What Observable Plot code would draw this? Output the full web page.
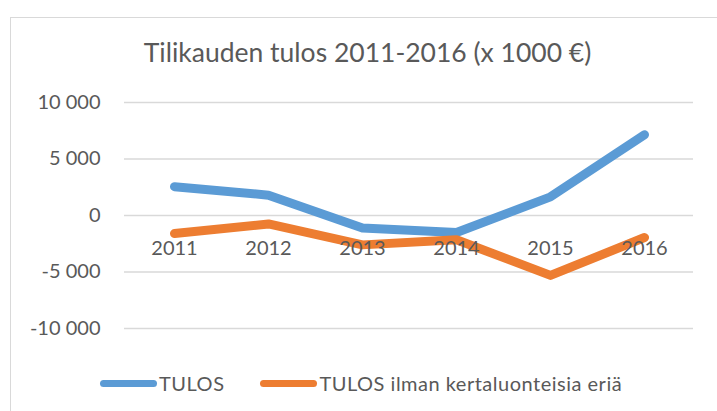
<!DOCTYPE html>
<html><head><meta charset="utf-8">
<script src="https://cdn.jsdelivr.net/npm/d3@7"></script>
<script src="https://cdn.jsdelivr.net/npm/@observablehq/plot@0.6"></script>
<style>
body{margin:0;background:#fff;font-family:Lato,"Open Sans",sans-serif;}
#wrap{position:relative;width:717px;height:411px;overflow:hidden;background:#fff;}
#frame{position:absolute;left:10px;top:17px;width:800px;height:500px;border:1.5px solid #d9d9d9;box-sizing:border-box;}
#title{position:absolute;top:34px;left:0;width:735px;text-align:center;font-size:26.5px;color:#595959;line-height:36px;}
#chart{position:absolute;left:0;top:0;}
#legend{position:absolute;top:369px;left:100px;display:flex;align-items:center;font-size:20px;letter-spacing:0.5px;color:#595959;line-height:28px;white-space:nowrap;}
.sw{display:inline-block;width:57px;height:7px;border-radius:4px;margin-right:2px;}
.item{display:flex;align-items:center;margin-right:36px;}
</style></head>
<body>
<div id="wrap">
  <div id="frame"></div>
  <div id="chart"></div>
  <div id="title"></div>
  <div id="legend"></div>
</div>
<script>
const titleText = "Tilikauden tulos 2011-2016 (x 1000 €)";
const years = ["2011", "2012", "2013", "2014", "2015", "2016"];
const seriesNames = ["TULOS", "TULOS ilman kertaluonteisia eriä"];
const seriesColors = ["#5B9BD5", "#ED7D31"];
const tulos = [2550, 1800, -1100, -1500, 1650, 7150];
const tulosIlman = [-1600, -750, -2600, -2150, -5300, -1950];
const yTicks = [-10000, -5000, 0, 5000, 10000];

const fmt = d => String(d).replace(/\B(?=(\d{3})+(?!\d))/g, " ");

const data = [];
years.forEach((y, i) => {
  data.push({year: y, value: tulos[i], series: seriesNames[0]});
  data.push({year: y, value: tulosIlman[i], series: seriesNames[1]});
});

const chart = Plot.plot({
  width: 717,
  height: 411,
  marginLeft: 124,
  marginRight: 24,
  marginTop: 102,
  marginBottom: 83,
  style: {fontFamily: "Lato, 'Open Sans', sans-serif", background: "transparent", color: "#595959"},
  x: {type: "point", domain: years, padding: 0.5, axis: null},
  y: {domain: [-10000, 10000], axis: null},
  color: {domain: seriesNames, range: seriesColors},
  marks: [
    Plot.gridY(yTicks, {stroke: "#d9d9d9", strokeOpacity: 1, strokeWidth: 1.5}),
    Plot.axisY(yTicks, {tickSize: 0, tickPadding: 24, tickFormat: fmt, fontSize: 20, fill: "#595959", label: null}),
    Plot.line(data, {x: "year", y: "value", z: "series", stroke: "series", strokeWidth: 9, strokeLinecap: "round", strokeLinejoin: "round"}),
    Plot.text(years, {x: d => d, y: () => 0, dy: 33, text: d => d, fontSize: 20, fill: "#595959"})
  ]
});
document.getElementById("chart").appendChild(chart);
document.getElementById("title").textContent = titleText;

const legend = document.getElementById("legend");
seriesNames.forEach((name, i) => {
  const item = document.createElement("div");
  item.className = "item";
  const sw = document.createElement("span");
  sw.className = "sw";
  sw.style.background = seriesColors[i];
  const t = document.createElement("span");
  t.textContent = name;
  item.appendChild(sw);
  item.appendChild(t);
  legend.appendChild(item);
});
</script>
</body></html>
